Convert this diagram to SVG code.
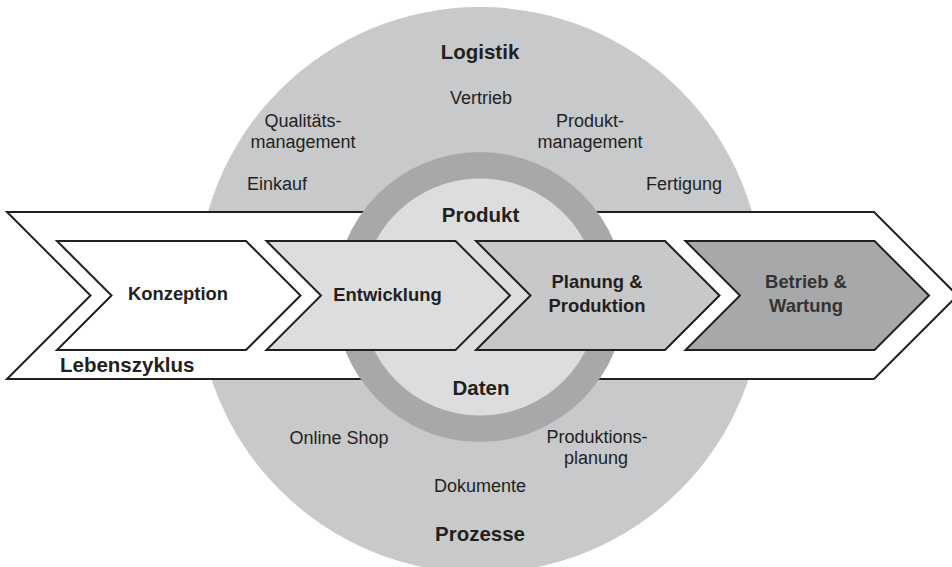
<svg xmlns="http://www.w3.org/2000/svg" width="952" height="567" viewBox="0 0 952 567">
<style>
text{font-family:"Liberation Sans",Arial,sans-serif;fill:#231f20}
.b{font-weight:bold}
.r{font-size:18px}
.h{font-size:20.5px;font-weight:bold}
.c{font-size:18.4px;font-weight:bold}
.m{text-anchor:middle}
.chev{stroke:#231f20;stroke-width:2;stroke-linejoin:miter}
</style>
<rect width="952" height="567" fill="#ffffff"/>
<g id="outer-circle">
<circle cx="480" cy="290" r="283" fill="#c8c9cb"/>
<text class="h m" x="480" y="59">Logistik</text>
<text class="r m" x="481" y="104">Vertrieb</text>
<text class="r m" x="303" y="127">Qualitäts-</text>
<text class="r m" x="303" y="148">management</text>
<text class="r m" x="590" y="127">Produkt-</text>
<text class="r m" x="590" y="148">management</text>
<text class="r m" x="277" y="190">Einkauf</text>
<text class="r m" x="684" y="190">Fertigung</text>
<text class="r m" x="339" y="444">Online Shop</text>
<text class="r m" x="597" y="443">Produktions-</text>
<text class="r m" x="596" y="464">planung</text>
<text class="r m" x="480" y="492">Dokumente</text>
<text class="h m" x="480" y="541">Prozesse</text>
</g>
<g id="lebenszyklus">
<path class="chev" d="M7,212 L874,212 L957.5,295.5 L874,379 L7,379 L90.5,295.5 Z" fill="#ffffff"/>
<text class="h" x="60" y="372">Lebenszyklus</text>
</g>
<g id="inner-circle">
<circle cx="480" cy="297" r="145" fill="#a7a8aa"/>
<circle cx="480" cy="297" r="118.5" fill="#dcdddf"/>
<text class="h m" x="480.5" y="222">Produkt</text>
<text class="h m" x="481" y="395">Daten</text>
</g>
<g id="connectors"></g>
<g id="konzeption">
<path class="chev" d="M57,241 L246,241 L300.5,295.5 L246,350 L57,350 L111.5,295.5 Z" fill="#ffffff"/>
<text class="c m" x="178" y="300">Konzeption</text>
</g>
<g id="entwicklung">
<path class="chev" d="M266.5,241 L455.5,241 L510,295.5 L455.5,350 L266.5,350 L321,295.5 Z" fill="#dcdddf"/>
<text class="c m" x="387.5" y="301">Entwicklung</text>
</g>
<g id="planung">
<path class="chev" d="M476,241 L665,241 L719.5,295.5 L665,350 L476,350 L530.5,295.5 Z" fill="#c7c8ca"/>
<text class="c m" x="597" y="288">Planung &amp;</text>
<text class="c m" x="597" y="312">Produktion</text>
</g>
<g id="betrieb">
<path class="chev" d="M685.5,241 L874.5,241 L929,295.5 L874.5,350 L685.5,350 L740,295.5 Z" fill="#a7a8aa"/>
<text class="c m" x="806" y="288" style="fill:#333">Betrieb &amp;</text>
<text class="c m" x="806" y="312" style="fill:#333">Wartung</text>
</g>
</svg>
